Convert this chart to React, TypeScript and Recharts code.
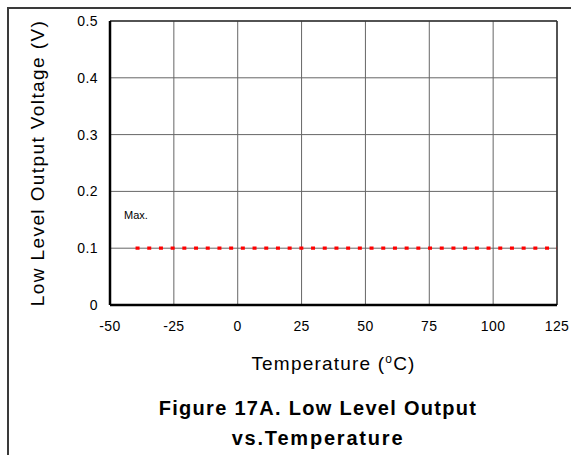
import React from 'react';
import { LineChart, Line, XAxis, YAxis, CartesianGrid, ReferenceLine } from 'recharts';

// temperature ticks (°C) and voltage ticks (V)
const tempTicks = [-50, -25, 0, 25, 50, 75, 100, 125];
const voltTicks = [0, 0.1, 0.2, 0.3, 0.4, 0.5];

// max spec line
const maxTemps = [-40, 125];
const maxVolts = [0.1, 0.1];

const data = maxTemps.map((t, i) => ({ temp: t, max: maxVolts[i] }));

const font = 'Arial, "Liberation Sans", sans-serif';

const MaxLabel = (p: any) => {
	if (p.index !== 0) return null;
	return (
		<text x={p.x - 11.5} y={p.y - 29} fontSize={11} fontFamily={font} fill='#000'>
			Max.
		</text>
	);
};

const App = () => {
	return (
		<div style={{ position: 'relative', width: 571, height: 455, overflow: 'hidden', background: '#fff' }}>
			<style>{'body{margin:0}'}</style>
			<div
				style={{
					position: 'absolute',
					left: 7,
					top: 7,
					width: 620,
					height: 520,
					borderTop: '2px solid #3a3a3a',
					borderLeft: '2px solid #3a3a3a',
				}}
			/>
			<div style={{ position: 'absolute', left: 0, top: 0 }}>
				<LineChart width={571} height={455} data={data} margin={{ top: 21, right: 14, bottom: 120, left: 0 }}>
					<CartesianGrid stroke='#666' strokeWidth={1} horizontalValues={voltTicks} verticalValues={tempTicks} />
					<ReferenceLine y={0.5} stroke='#333' strokeWidth={1.5} />
					<ReferenceLine x={125} stroke='#333' strokeWidth={1.5} />
					<XAxis
						dataKey='temp'
						type='number'
						domain={[-50, 125]}
						ticks={tempTicks}
						height={30}
						axisLine={{ stroke: '#000', strokeWidth: 2.5 }}
						tickLine={false}
						tickSize={0}
						tickMargin={16}
						tick={{ fill: '#000', fontSize: 14, fontFamily: font, letterSpacing: 0.4 }}
						label={({ viewBox }: any) => (
							<text
								x={viewBox.x + viewBox.width / 2}
								y={viewBox.y + 65}
								textAnchor='middle'
								fontSize={19}
								letterSpacing={1.2}
								fontFamily={font}
								fill='#000'>
								Temperature (
								<tspan fontSize={12} dy={-7}>
									o
								</tspan>
								<tspan dy={7}>C)</tspan>
							</text>
						)}
					/>
					<YAxis
						type='number'
						domain={[0, 0.5]}
						ticks={voltTicks}
						width={110}
						axisLine={{ stroke: '#000', strokeWidth: 2.5 }}
						tickLine={false}
						tickSize={0}
						tickMargin={12}
						tick={{ fill: '#000', fontSize: 14, fontFamily: font, letterSpacing: 0.4 }}
						label={({ viewBox }: any) => {
							const cx = 37;
							const cy = viewBox.y + viewBox.height / 2;
							return (
								<text
									x={cx}
									y={cy}
									transform={`rotate(-90, ${cx}, ${cy})`}
									textAnchor='middle'
									dominantBaseline='central'
									fontSize={19}
									letterSpacing={1.4}
									fontFamily={font}
									fill='#000'>
									Low Level Output Voltage (V)
								</text>
							);
						}}
					/>
					<Line
						dataKey='max'
						stroke='#ff0000'
						strokeWidth={3.2}
						strokeDasharray='4 7.7'
						dot={false}
						activeDot={false}
						label={MaxLabel}
						isAnimationActive={false}
					/>
				</LineChart>
			</div>
			<div
				style={{
					position: 'absolute',
					left: 118,
					top: 393,
					width: 400,
					textAlign: 'center',
					fontFamily: font,
					fontWeight: 'bold',
					fontSize: 20,
					lineHeight: '30px',
					letterSpacing: 1.3,
					color: '#000',
				}}>
				Figure 17A. Low Level Output
				<br />
				<span style={{ letterSpacing: 1.8 }}>vs.Temperature</span>
			</div>
		</div>
	);
};

export default App;
